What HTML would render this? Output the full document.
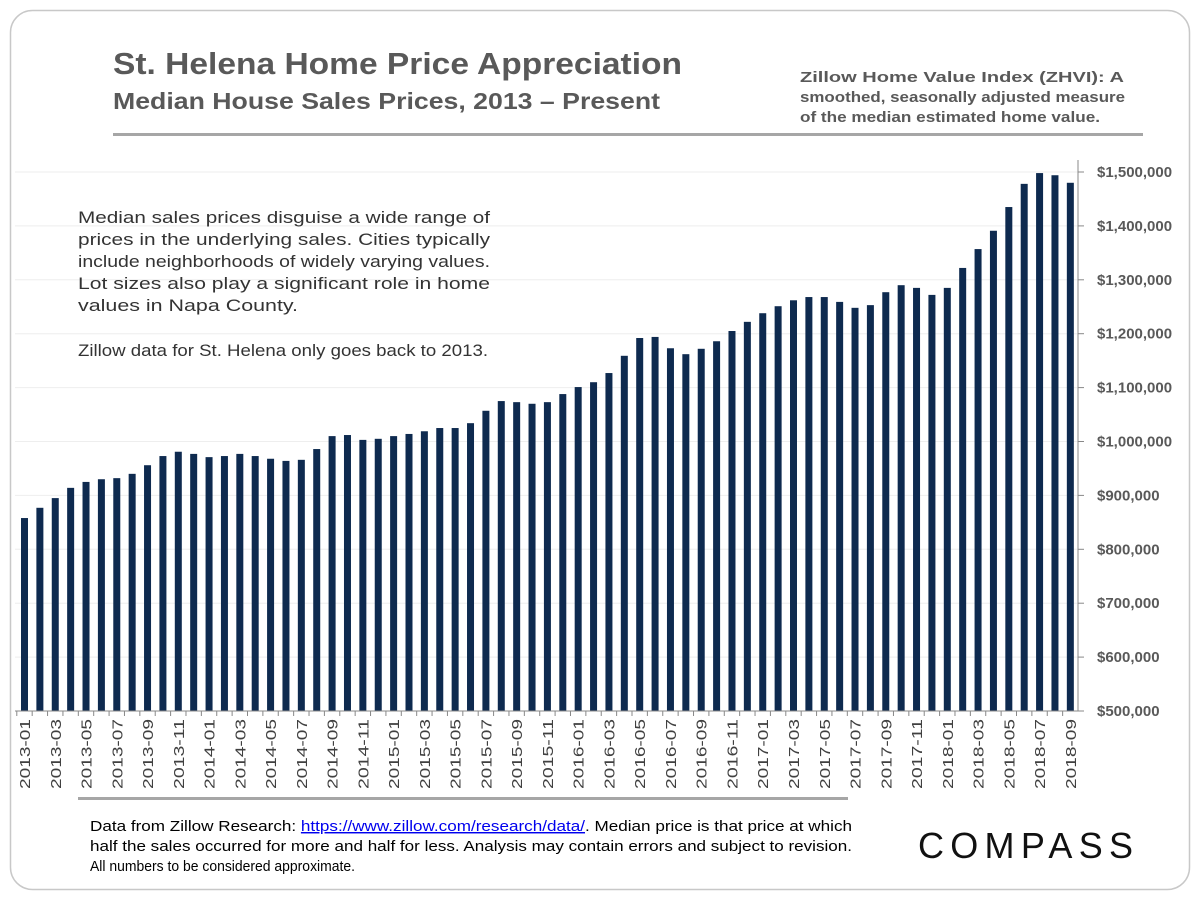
<!DOCTYPE html>
<html><head><meta charset="utf-8"><style>
body{margin:0;background:#fff;width:1200px;height:900px;overflow:hidden;font-family:"Liberation Sans",Arial,sans-serif}
</style></head><body>
<svg width="1200" height="900" xmlns="http://www.w3.org/2000/svg" font-family="Liberation Sans, Arial, sans-serif">
<rect x="10.5" y="10.5" width="1179" height="879" rx="22" fill="#fff" stroke="#c8c8c8" stroke-width="1.5"/>
<text x="113" y="74" font-size="31" font-weight="bold" fill="#595959" textLength="569" lengthAdjust="spacingAndGlyphs">St. Helena Home Price Appreciation</text>
<text x="113" y="109" font-size="23" font-weight="bold" fill="#595959" textLength="547" lengthAdjust="spacingAndGlyphs">Median House Sales Prices, 2013 – Present</text>
<g font-size="15" font-weight="bold" fill="#595959" lengthAdjust="spacingAndGlyphs">
<text x="800" y="82" textLength="324" lengthAdjust="spacingAndGlyphs">Zillow Home Value Index (ZHVI): A</text>
<text x="800" y="102" textLength="325" lengthAdjust="spacingAndGlyphs">smoothed, seasonally adjusted measure</text>
<text x="800" y="122" textLength="300" lengthAdjust="spacingAndGlyphs">of the median estimated home value.</text>
</g>
<rect x="113" y="133" width="1030" height="3" fill="#a6a6a6"/>
<g id="grid" stroke="#eeeeee" stroke-width="1"></g>
<g id="bars" fill="#0e2a4f"></g>
<line x1="1078" y1="160" x2="1078" y2="711" stroke="#888"/>
<line x1="15" y1="711" x2="1078" y2="711" stroke="#888"/>
<g id="ticks" stroke="#888"></g>
<g id="ylab" font-size="15" font-weight="bold" fill="#595959"></g>
<g id="xlab" font-size="15" fill="#404040"></g>
<g font-size="17" fill="#333">
<text x="78" y="223" textLength="412" lengthAdjust="spacingAndGlyphs">Median sales prices disguise a wide range of</text>
<text x="78" y="245" textLength="412" lengthAdjust="spacingAndGlyphs">prices in the underlying sales. Cities typically</text>
<text x="78" y="267" textLength="412" lengthAdjust="spacingAndGlyphs">include neighborhoods of widely varying values.</text>
<text x="78" y="289" textLength="412" lengthAdjust="spacingAndGlyphs">Lot sizes also play a significant role in home</text>
<text x="78" y="311" textLength="220" lengthAdjust="spacingAndGlyphs">values in Napa County.</text>
<text x="78" y="356" textLength="410" lengthAdjust="spacingAndGlyphs">Zillow data for St. Helena only goes back to 2013.</text>
</g>
<rect x="78" y="797" width="770" height="3" fill="#a6a6a6"/>
<g font-size="14.5" fill="#000">
<text x="90" y="831" textLength="762" lengthAdjust="spacingAndGlyphs">Data from Zillow Research: <tspan fill="#0000ee" text-decoration="underline">https://www.zillow.com/research/data/</tspan>. Median price is that price at which</text>
<text x="90" y="851" textLength="762" lengthAdjust="spacingAndGlyphs">half the sales occurred for more and half for less. Analysis may contain errors and subject to revision.</text>
<text x="90" y="871" textLength="265" lengthAdjust="spacingAndGlyphs">All numbers to be considered approximate.</text>
</g>
<text x="918" y="858" font-size="36" fill="#111" textLength="215" lengthAdjust="spacing">COMPASS</text>
</svg>
<script>
var v=[858,877,895,914,925,930,932,940,956,973,981,977,971,973,977,973,968,964,966,986,1010,1012,1003,1005,1010,1014,1019,1025,1025,1034,1057,1075,1073,1070,1073,1088,1101,1110,1127,1159,1192,1194,1173,1162,1172,1186,1205,1222,1238,1251,1262,1268,1268,1259,1248,1253,1277,1290,1285,1272,1285,1322,1357,1391,1435,1478,1498,1494,1480];
var ns="http://www.w3.org/2000/svg";
function el(p,t,a,txt){var e=document.createElementNS(ns,t);for(var k in a)e.setAttribute(k,a[k]);if(txt)e.textContent=txt;document.getElementById(p).appendChild(e);}
for(var i=0;i<=10;i++){var y=711-i*53.9;if(i>0)el("grid","line",{x1:15,x2:1078,y1:y,y2:y});el("ticks","line",{x1:1078,x2:1084,y1:y,y2:y});
el("ylab","text",{x:1097,y:y+5},"$"+(i==10?"1,500,000":(i>=5?"1,"+(i-5)+"00,000":(5+i)+"00,000")));}
for(var i=0;i<v.length;i++){var c=24.5+i*15.38;var y=711-(v[i]-500)*0.539;el("bars","rect",{x:c-3.5,y:y,width:7,height:711-y});
el("ticks","line",{x1:c-7.7,x2:c-7.7,y1:711,y2:716});
if(i%2==0){var yr=2013+Math.floor(i/12),m=i%12+1;el("xlab","text",{transform:"translate("+(c+5.5)+",719) rotate(-90)","text-anchor":"end",textLength:70,lengthAdjust:"spacingAndGlyphs"},yr+"-"+(m<10?"0":"")+m);}}
</script>
</body></html>
